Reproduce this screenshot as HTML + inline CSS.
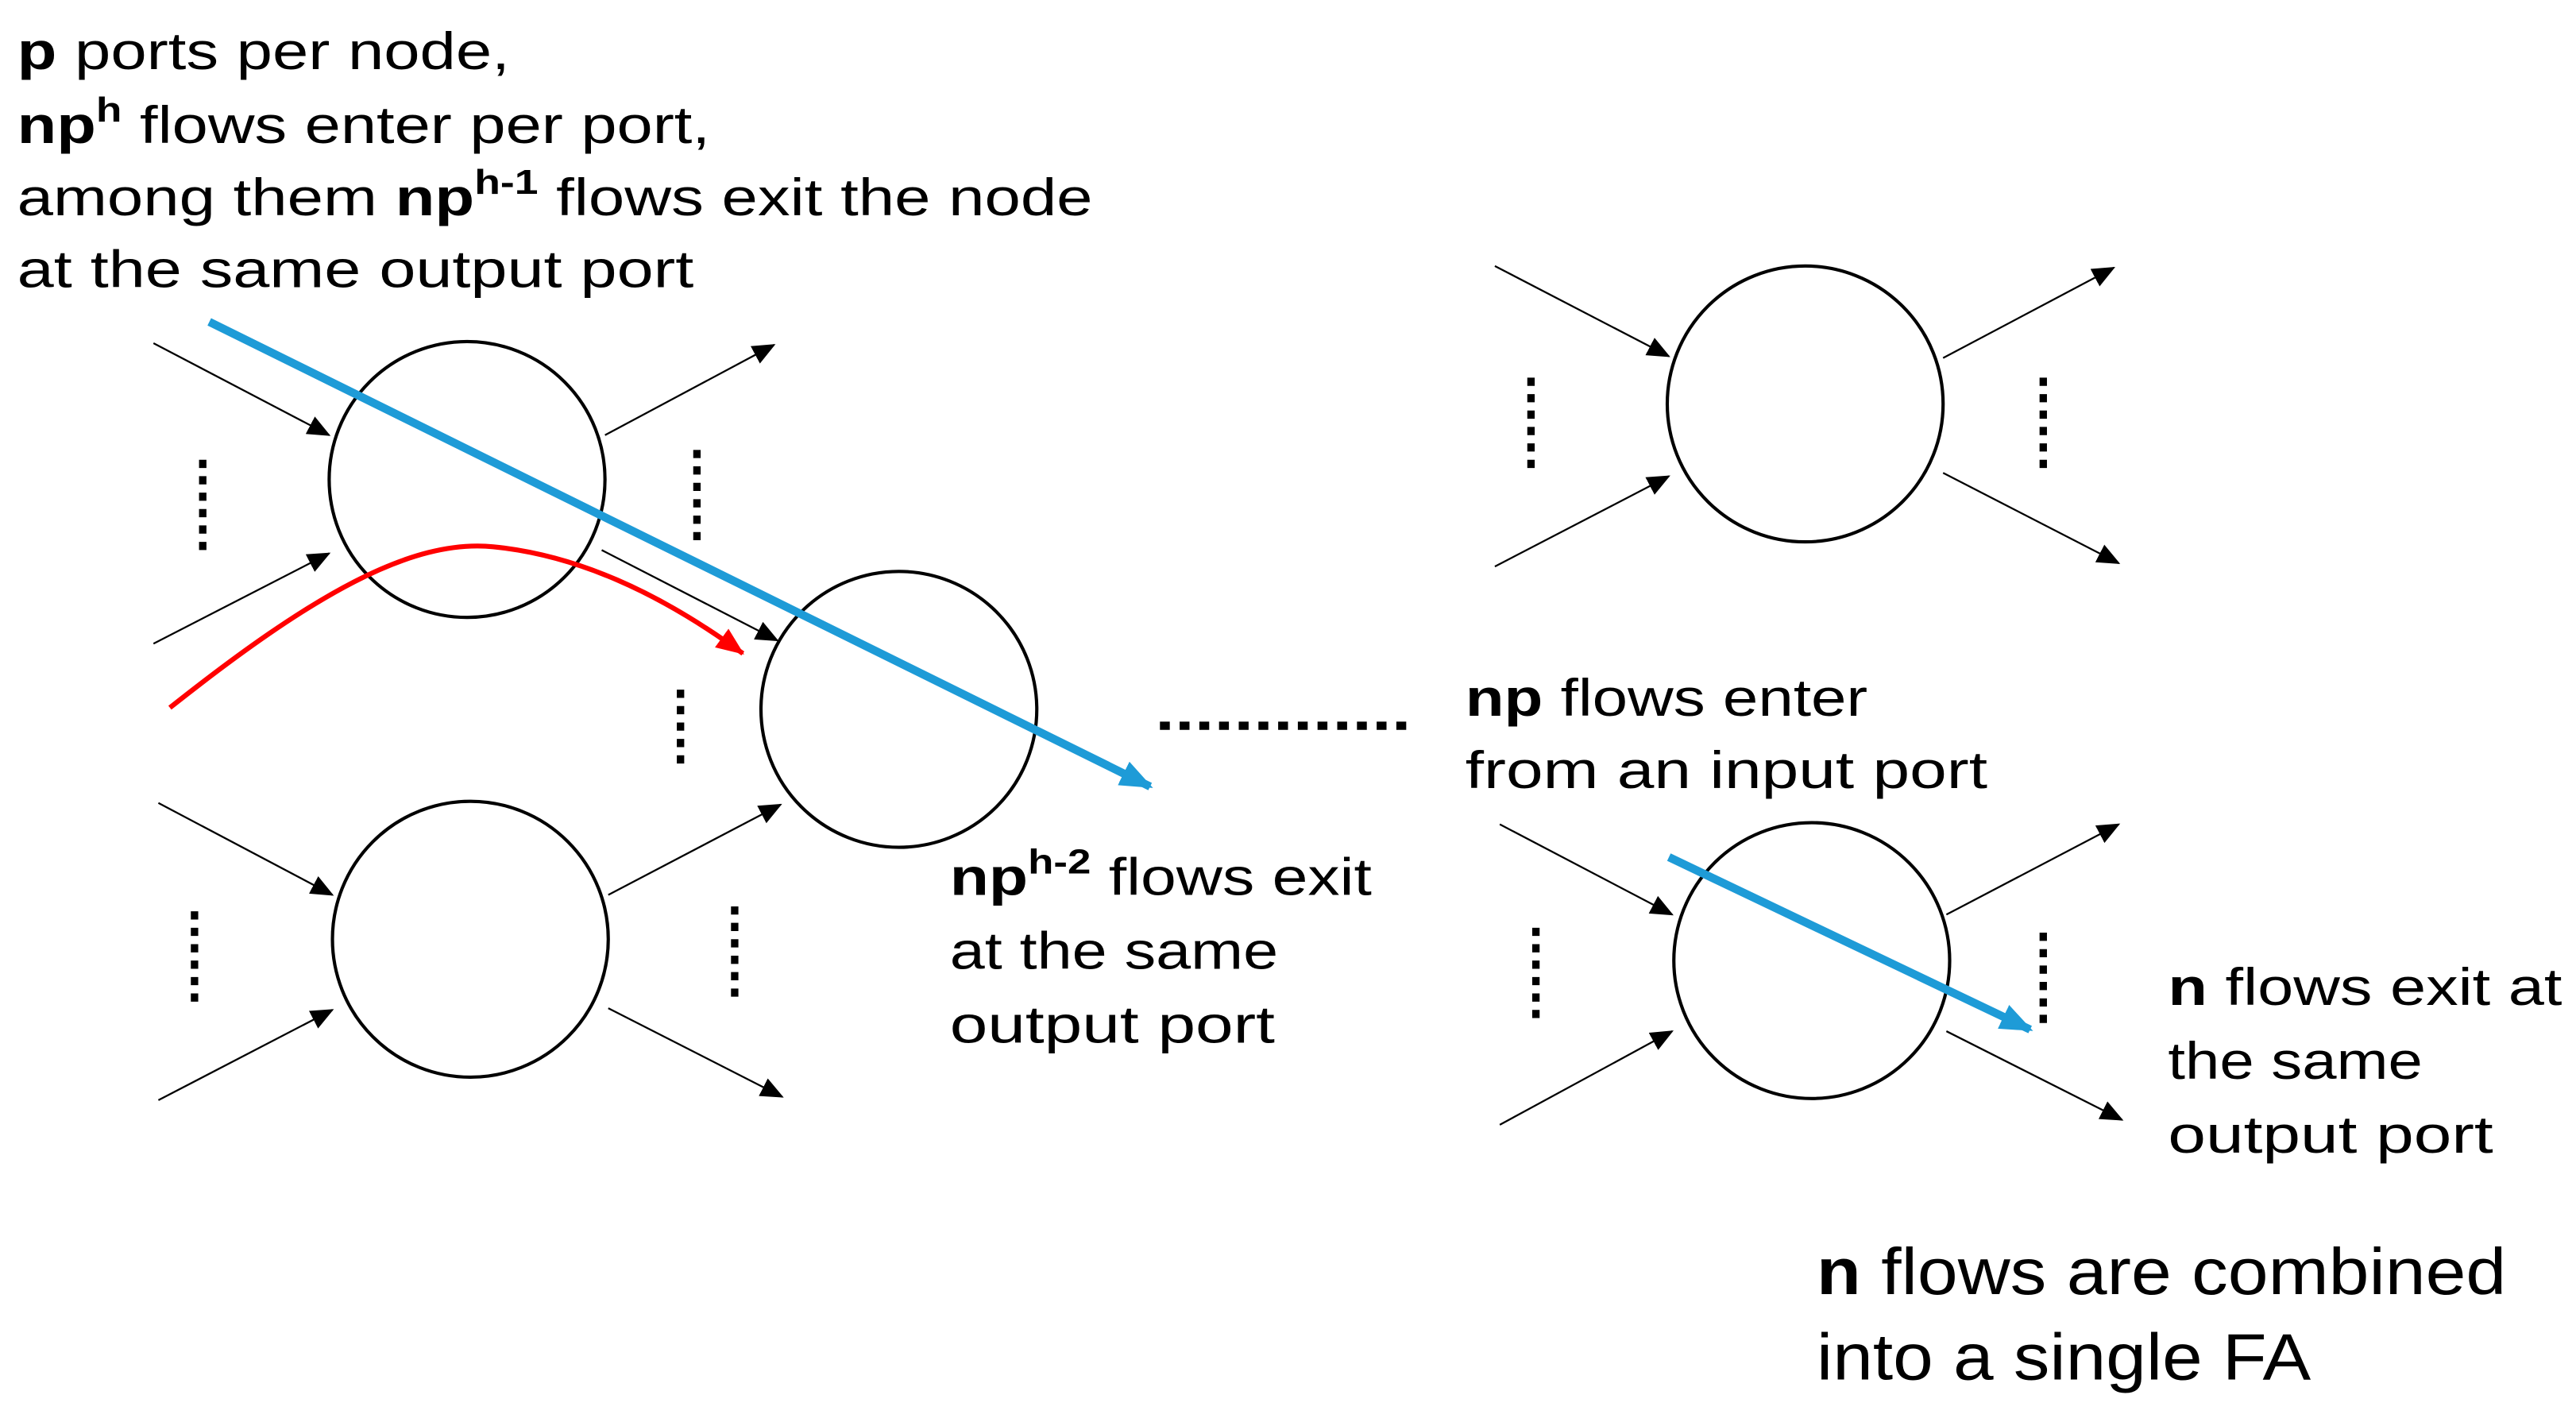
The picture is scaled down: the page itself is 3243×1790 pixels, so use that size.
<!DOCTYPE html>
<html><head><meta charset="utf-8"><style>
html,body{margin:0;padding:0;background:#fff;}
svg{display:block;}
text{font-family:"Liberation Sans","DejaVu Sans",sans-serif;fill:#000;}
</style></head><body>
<svg width="3243" height="1790" viewBox="0 0 1568 866" xmlns="http://www.w3.org/2000/svg">
<defs>
<marker id="a" markerWidth="16" markerHeight="16" refX="13" refY="6" orient="auto" markerUnits="userSpaceOnUse"><path d="M0,0 L14,6 L0,12 z" fill="#000"/></marker>
<marker id="b" markerWidth="22" markerHeight="22" refX="18" refY="8" orient="auto" markerUnits="userSpaceOnUse"><path d="M0,0 L20,8 L0,16 z" fill="#1E9BD7"/></marker>
<marker id="r" markerWidth="20" markerHeight="20" refX="16" refY="7" orient="auto" markerUnits="userSpaceOnUse"><path d="M0,0 L17,7 L0,14 z" fill="#FF0000"/></marker>
</defs>
<rect width="1568" height="866" fill="#fff"/>

<text x="10" y="42" font-size="32" textLength="300" lengthAdjust="spacingAndGlyphs"><tspan font-weight="bold">p</tspan> ports per node,</text>
<text x="10" y="87" font-size="32" textLength="422" lengthAdjust="spacingAndGlyphs"><tspan font-weight="bold">np</tspan><tspan font-weight="bold" font-size="21" dy="-13">h</tspan><tspan dy="13"> flows enter per port,</tspan></text>
<text x="10" y="131" font-size="32" textLength="655" lengthAdjust="spacingAndGlyphs">among them <tspan font-weight="bold">np</tspan><tspan font-weight="bold" font-size="21" dy="-13">h-1</tspan><tspan dy="13"> flows exit the node</tspan></text>
<text x="10" y="175" font-size="32" textLength="412" lengthAdjust="spacingAndGlyphs">at the same output port</text>

<g fill="none" stroke="#000" stroke-width="2">
<circle cx="284" cy="292" r="84"/>
<circle cx="547" cy="432" r="84"/>
<circle cx="286" cy="572" r="84"/>
<circle cx="1099" cy="246" r="84"/>
<circle cx="1103" cy="585" r="84"/>
</g>

<g stroke="#000" stroke-width="1.1" marker-end="url(#a)">
<line x1="93" y1="209" x2="200" y2="265"/>
<line x1="93" y1="392" x2="200" y2="337"/>
<line x1="368" y1="265" x2="471" y2="210"/>
<line x1="366" y1="335" x2="473" y2="390"/>
<line x1="96" y1="489" x2="202" y2="545"/>
<line x1="96" y1="670" x2="202" y2="615"/>
<line x1="370" y1="545" x2="475" y2="490"/>
<line x1="370" y1="614" x2="476" y2="668"/>
<line x1="910" y1="162" x2="1016" y2="217"/>
<line x1="910" y1="345" x2="1016" y2="290"/>
<line x1="1183" y1="218" x2="1287" y2="163"/>
<line x1="1183" y1="288" x2="1290" y2="343"/>
<line x1="913" y1="502" x2="1018" y2="557"/>
<line x1="913" y1="685" x2="1018" y2="628"/>
<line x1="1185" y1="557" x2="1290" y2="502"/>
<line x1="1185" y1="628" x2="1292" y2="682"/>
</g>

<g stroke="#000" stroke-width="4.5" stroke-dasharray="5 5">
<line x1="123" y1="280" x2="123" y2="340"/>
<line x1="424" y1="274" x2="424" y2="334"/>
<line x1="414" y1="420" x2="414" y2="468"/>
<line x1="118" y1="555" x2="118" y2="615"/>
<line x1="447" y1="552" x2="447" y2="612"/>
<line x1="932" y1="230" x2="932" y2="286"/>
<line x1="1244" y1="230" x2="1244" y2="290"/>
<line x1="935" y1="565" x2="935" y2="625"/>
<line x1="1244" y1="568" x2="1244" y2="624"/>
</g>
<line x1="706" y1="442" x2="862" y2="442" stroke="#000" stroke-width="5" stroke-dasharray="6 6"/>

<path d="M103,431 C190,362 250,328 300,333 C350,338 400,360 452,398" fill="none" stroke="#FF0000" stroke-width="3" marker-end="url(#r)"/>

<line x1="127" y1="196" x2="700" y2="479" stroke="#1E9BD7" stroke-width="5" marker-end="url(#b)"/>
<line x1="1016" y1="522" x2="1236" y2="627" stroke="#1E9BD7" stroke-width="5" marker-end="url(#b)"/>

<text x="578" y="545" font-size="32" textLength="257" lengthAdjust="spacingAndGlyphs"><tspan font-weight="bold">np</tspan><tspan font-weight="bold" font-size="21" dy="-13">h-2</tspan><tspan dy="13"> flows exit</tspan></text>
<text x="578" y="590" font-size="32" textLength="200" lengthAdjust="spacingAndGlyphs">at the same</text>
<text x="578" y="635" font-size="32" textLength="198" lengthAdjust="spacingAndGlyphs">output port</text>

<text x="892" y="436" font-size="32" textLength="245" lengthAdjust="spacingAndGlyphs"><tspan font-weight="bold">np</tspan> flows enter</text>
<text x="892" y="480" font-size="32" textLength="318" lengthAdjust="spacingAndGlyphs">from an input port</text>

<text x="1320" y="612" font-size="32" textLength="240" lengthAdjust="spacingAndGlyphs"><tspan font-weight="bold">n</tspan> flows exit at</text>
<text x="1320" y="657" font-size="32" textLength="155" lengthAdjust="spacingAndGlyphs">the same</text>
<text x="1320" y="702" font-size="32" textLength="198" lengthAdjust="spacingAndGlyphs">output port</text>

<text x="1106" y="788" font-size="40" textLength="420" lengthAdjust="spacingAndGlyphs"><tspan font-weight="bold">n</tspan> flows are combined</text>
<text x="1106" y="840" font-size="40" textLength="301" lengthAdjust="spacingAndGlyphs">into a single FA</text>
</svg>
</body></html>
